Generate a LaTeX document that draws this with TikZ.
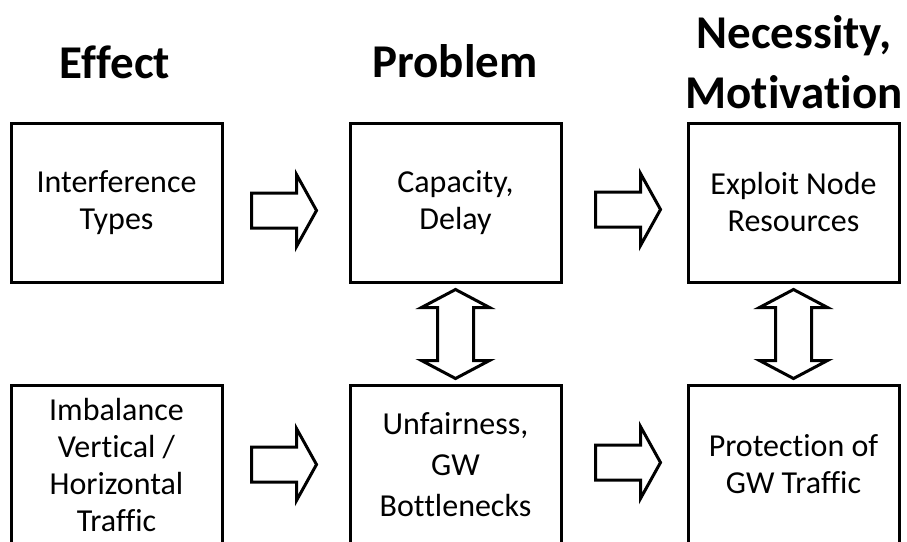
\documentclass[tikz,border=0pt]{standalone}
\usepackage{fontspec}
\setmainfont{Carlito}[Ligatures=NoCommon]
\usetikzlibrary{calc}

\tikzset{
  box/.style={draw, line width=3pt, minimum width=211pt, minimum height=159pt,
              inner sep=0pt, align=center, font=\fontsize{32}{37}\selectfont},
  header/.style={font=\fontsize{47}{60}\selectfont\bfseries, inner sep=0pt, align=center},
  arrowline/.style={draw, line width=3pt, line join=miter, fill=white},
  rarrow/.pic={\path[arrowline] (0,-17.5) -- (45,-17.5) -- (45,-36) -- (65,0)
        -- (45,36) -- (45,17.5) -- (0,17.5) -- cycle;},
  udarrow/.pic={\path[arrowline] (0,0) -- (34,18) -- (18,18) -- (18,71) -- (34,71)
        -- (0,89) -- (-34,71) -- (-18,71) -- (-18,18) -- (-34,18) -- cycle;}
}

\begin{document}
\begin{tikzpicture}[x=1pt, y=-1pt]
  \useasboundingbox (0,0) rectangle (907,541);

  % column headers
  \node[header, anchor=base] (hEff)  at (115,78) {Effect};
  \node[header, anchor=base] (hProb) at (455,77) {Problem};
  \node[header] (hNec) at (794,62) {Necessity,\\Motivation};

  % upper row
  \node[box] (eff)  at (116.5,202.5) {Interference\\Types};
  \node[box] (prob) at (455.5,202.5) {Capacity,\\Delay};
  \node[box] (nec)  at (793.5,202.5) {Exploit Node\\Resources};

  % lower row (runs past the lower edge)
  \node[box] (imb)  at (116.5,464.5) {Imbalance\\Vertical /\\Horizontal\\Traffic};
  \node[box, font=\fontsize{32}{41}\selectfont] (unf) at (455.5,464.5)
        {Unfairness,\\GW\\Bottlenecks};
  \node[box] (prot) at (793.5,464.5) {Protection of\\GW Traffic};

  % horizontal block arrows
  \pic at ($(eff.east)+(28,8)$)  {rarrow};
  \pic at ($(prob.east)+(33,7)$) {rarrow};
  \pic at ($(imb.east)+(28,0)$)  {rarrow};
  \pic at ($(unf.east)+(33,-2)$) {rarrow};

  % vertical double arrows
  \pic at ($(prob.south)+(0,6)$) {udarrow};
  \pic at ($(nec.south)+(0,6)$)  {udarrow};
\end{tikzpicture}
\end{document}
